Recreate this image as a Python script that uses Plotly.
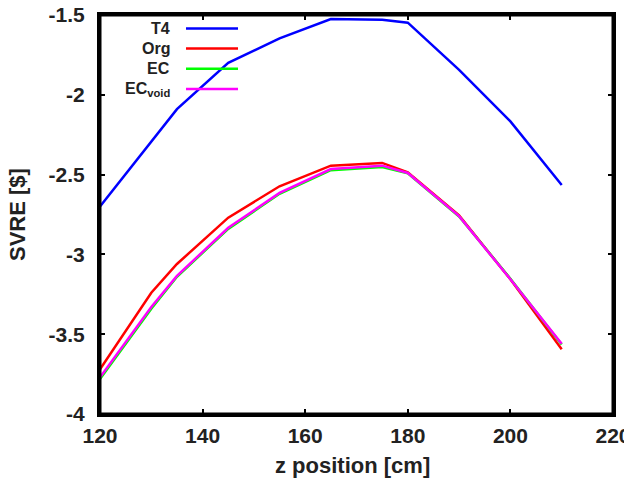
import plotly.graph_objects as go

z = [120, 130, 135, 145, 155, 165, 175, 180, 190, 200, 210]
t4 = [-2.70, -2.29, -2.09, -1.80, -1.646, -1.525, -1.53, -1.548, -1.844, -2.167, -2.565]
org = [-3.72, -3.24, -3.06, -2.77, -2.573, -2.444, -2.427, -2.486, -2.756, -3.156, -3.594]
ec = [-3.78, -3.34, -3.14, -2.84, -2.62, -2.472, -2.452, -2.492, -2.762, -3.152, -3.565]
ecvoid = [-3.77, -3.33, -3.135, -2.833, -2.615, -2.465, -2.444, -2.49, -2.76, -3.156, -3.56]

x_ticks = [120, 140, 160, 180, 200, 220]
y_ticks = [-4, -3.5, -3, -2.5, -2, -1.5]

names = ["T4", "Org", "EC", "EC<sub>void</sub>"]
series = [t4, org, ec, ecvoid]
colors = ["#0000ff", "#ff0000", "#00ff00", "#ff00ff"]

W, H = 624, 480
L, R, T, B = 100, 613, 15, 414  # plot frame in pixels
xd = [L / W, R / W]
yd = [(H - B) / H, (H - T) / H]
FONT = "Liberation Sans, Arial, sans-serif"

fig = go.Figure()
for nm, ys, c in zip(names, series, colors):
    fig.add_trace(go.Scatter(x=z, y=ys, mode="lines", name=nm,
                             line=dict(color=c, width=2.5), showlegend=False))

# manual gnuplot-style legend (text right, sample line after)
row_px = [28.5, 48.5, 68.8, 89]
for nm, c, py in zip(names, colors, row_px):
    yy = (H - py) / H
    fig.add_annotation(xref="paper", yref="paper", x=172 / W, y=yy, text="<b>" + nm + "</b>",
                       showarrow=False, xanchor="right", yanchor="middle",
                       font=dict(family=FONT, size=16, color="#222"))
    fig.add_shape(type="line", xref="paper", yref="paper", x0=186 / W, x1=238 / W, y0=yy, y1=yy,
                  line=dict(color=c, width=2.5))

# axis titles
fig.add_annotation(xref="paper", yref="paper", x=(L + R - 8) / 2 / W, y=(H - 465) / H,
                   text="<b>z position [cm]</b>", showarrow=False, xanchor="center", yanchor="middle",
                   font=dict(family=FONT, size=22, color="#222"))
fig.add_annotation(xref="paper", yref="paper", x=18 / W, y=(H - 215) / H,
                   text="<b>SVRE [$]</b>", showarrow=False, xanchor="center", yanchor="middle",
                   textangle=-90, font=dict(family=FONT, size=22, color="#222"))

# plot frame
fig.add_shape(type="rect", xref="paper", yref="paper", x0=xd[0], x1=xd[1], y0=yd[0], y1=yd[1],
              line=dict(color="black", width=3), layer="above")

tickfont = dict(family=FONT, size=21, color="#222")
fig.update_layout(
    width=W, height=H,
    margin=dict(l=0, r=0, t=0, b=0, autoexpand=False),
    paper_bgcolor="white", plot_bgcolor="white",
    font=tickfont, showlegend=False,
    xaxis=dict(domain=xd, range=[120, 220], tickvals=x_ticks,
               ticktext=["<b>%d</b>" % v for v in x_ticks], ticklabeloverflow="allow",
               tickfont=tickfont, ticklabelstandoff=1,
               showgrid=False, zeroline=False, showline=True, linecolor="black", linewidth=3,
               mirror="allticks", ticks="inside", ticklen=5, tickwidth=2, tickcolor="black",
               automargin=False),
    yaxis=dict(domain=yd, range=[-4, -1.5], tickvals=y_ticks,
               ticktext=["<b>%g</b>" % v for v in y_ticks], ticklabeloverflow="allow",
               tickfont=tickfont, ticklabelstandoff=8,
               showgrid=False, zeroline=False, showline=True, linecolor="black", linewidth=3,
               mirror="allticks", ticks="inside", ticklen=5, tickwidth=2, tickcolor="black",
               automargin=False),
)

fig.write_html("out.html")
